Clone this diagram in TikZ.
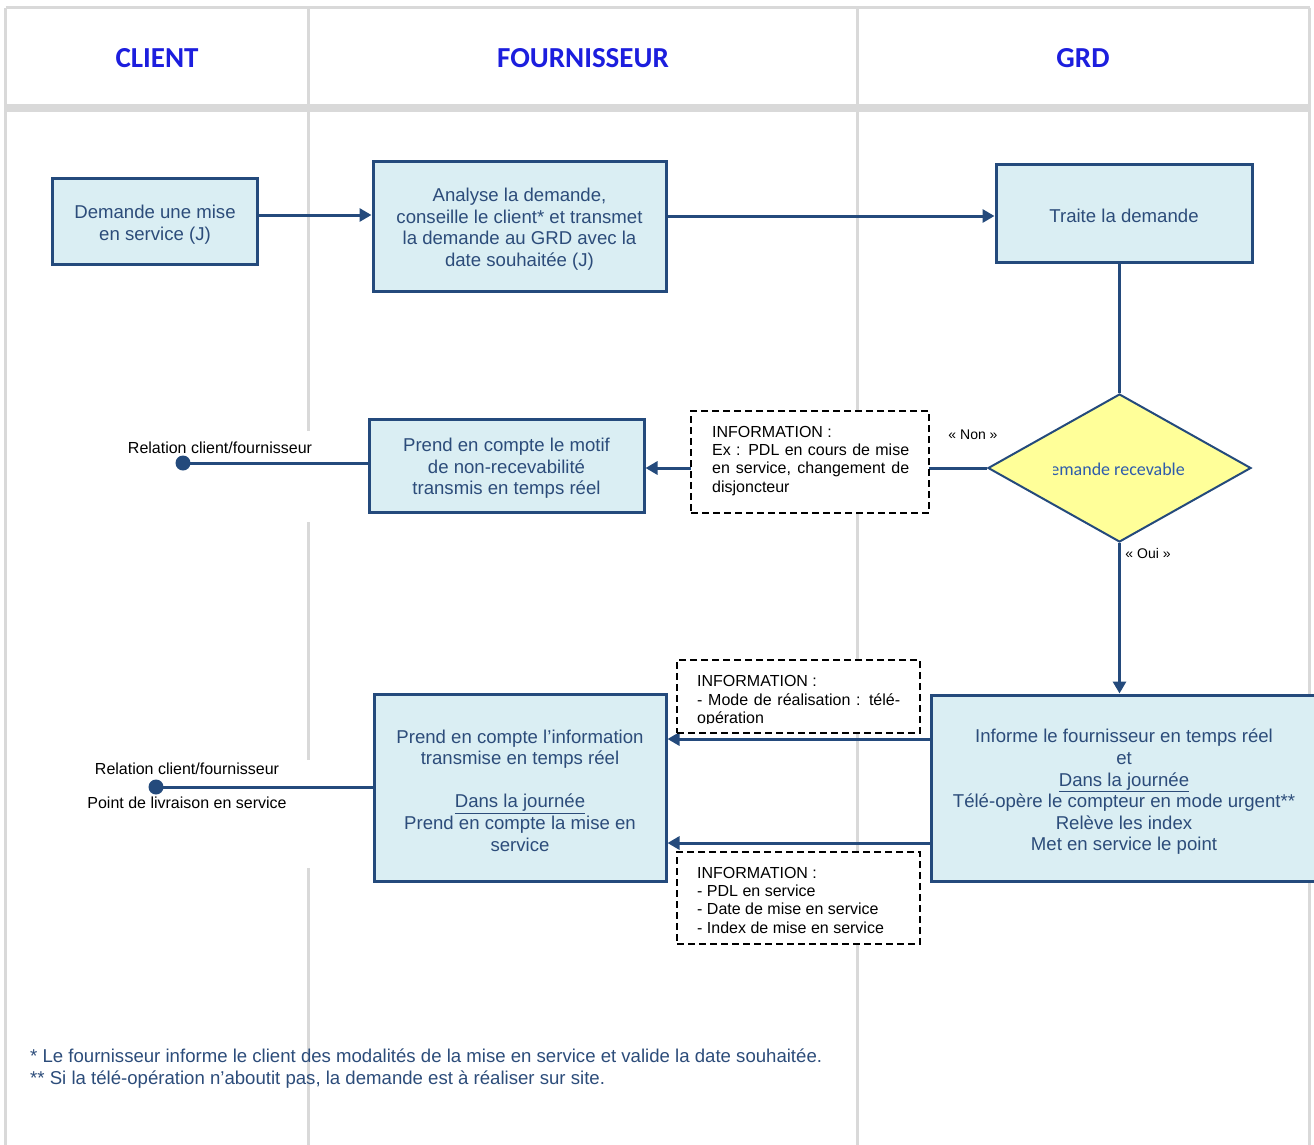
\documentclass[tikz,border=0pt]{standalone}
\usepackage{fontspec}
\setmainfont{Liberation Sans}
\newfontfamily\calib{Carlito}
\usetikzlibrary{arrows.meta,shapes.geometric}
\definecolor{bord}{RGB}{36,74,124}
\definecolor{boxfill}{RGB}{218,238,243}
\definecolor{boxtext}{RGB}{44,76,122}
\definecolor{decfill}{RGB}{255,255,153}
\definecolor{dectext}{RGB}{46,92,172}
\definecolor{sepgray}{RGB}{217,217,217}
\definecolor{titleblue}{RGB}{28,30,222}
\begin{document}
\begin{tikzpicture}[x=1pt,y=-1pt,
  proc/.style={draw=bord, line width=3pt, fill=boxfill, inner sep=0pt},
  ptext/.style={text=boxtext, align=center, inner sep=0pt, yshift=-3pt,
    font=\fontsize{18.6}{21.6}\selectfont},
  infobox/.style={draw=black, line width=1.8pt, dash pattern=on 7pt off 4pt, fill=white, inner sep=0pt},
  infotext/.style={anchor=north west, inner sep=0pt, align=left, text=black,
    font=\fontsize{16}{18.4}\selectfont},
  conn/.style={draw=bord, line width=3pt},
  arr/.style={conn, -{Triangle[length=12pt,width=13pt]}},
  sep/.style={draw=sepgray, line width=3pt},
  title/.style={text=titleblue, inner sep=0pt, font=\calib\bfseries\fontsize{29}{32}\selectfont},
  lbl/.style={inner sep=0pt, text=black, font=\fontsize{16}{18}\selectfont},
  small/.style={inner sep=0pt, text=black, font=\fontsize{14}{16}\selectfont},
  foot/.style={anchor=base west, inner sep=0pt, text=boxtext, font=\fontsize{18.6}{21.6}\selectfont},
  dot/.style={circle, fill=bord, minimum size=15pt, inner sep=0pt}
]
\useasboundingbox (0,0) rectangle (1314,1144);
\clip (0,0) rectangle (1314,1144);
\fill[white] (0,0) rectangle (1314,1144);

% frame and lanes
\draw[sep] (5.5,7.5) -- (1309.5,7.5);
\draw[sep] (5.5,7.5) -- (5.5,1150);
\draw[sep] (1309.5,7.5) -- (1309.5,1150);
\fill[sepgray] (4,104) rectangle (1311,112);
\draw[sep] (308.5,7.5) -- (308.5,104);
\draw[sep] (857,7.5) -- (857,104);
\draw[sep] (308.5,112) -- (308.5,431);
\draw[sep] (308.5,522) -- (308.5,760);
\draw[sep] (308.5,868) -- (308.5,1150);
\draw[sep] (857,112) -- (857,1150);

% titles
\node[title] (tclient) at (157,58) {CLIENT};
\node[title] (tfourn) at (583,58) {FOURNISSEUR};
\node[title] (tgrd) at (1083,58) {GRD};

% process boxes
\node[proc, minimum width=205pt, minimum height=86pt] (B1) at (155,221.5) {};
\node[ptext] (B1t) at (B1) {Demande une mise\\en service (J)};
\node[proc, minimum width=293pt, minimum height=130pt] (B2) at (519.5,226) {};
\node[ptext] (B2t) at (B2) {Analyse la demande,\\conseille le client* et transmet\\la demande au GRD avec la\\date souhaitée (J)};
\node[proc, minimum width=256pt, minimum height=98pt] (B3) at (1124,213) {};
\node[ptext] (B3t) at (B3) {Traite la demande};
\node[proc, minimum width=275pt, minimum height=93pt] (B5) at (506.5,465.5) {};
\node[ptext] (B5t) at (B5) {Prend en compte le motif\\de non-recevabilité\\transmis en temps réel};
\node[proc, minimum width=292pt, minimum height=187pt] (B12) at (520,787.5) {};
\node[ptext] (B12t) at (B12) {Prend en compte l’information\\transmise en temps réel\\[21.6pt]\underline{Dans la journée}\\Prend en compte la mise en\\service};
\node[proc, minimum width=386pt, minimum height=186pt] (B11) at (1124,788) {};
\node[ptext, yshift=-1pt] (B11t) at (B11) {Informe le fournisseur en temps réel\\et\\\underline{Dans la journée}\\Télé-opère le compteur en mode urgent**\\Relève les index\\Met en service le point};

% decision
\node[diamond, draw=bord, line width=2pt, fill=decfill, minimum width=263pt, minimum height=148pt, inner sep=0pt] (dec) at (1119.5,468) {};
\begin{scope}
\clip (1053.5,452) rectangle (1184.5,486);
\node[inner sep=0pt, text=dectext, font=\calib\fontsize{18}{21}\selectfont] (dect) at (1112,469) {Demande recevable};
\end{scope}

% helper rows
\coordinate (ya) at (0,215);
\coordinate (yb) at (0,216);
\coordinate (yc) at (0,739);
\coordinate (yd) at (0,843);

% connectors
\draw[arr] (B1.east |- ya) -- (B2.west |- ya);
\draw[arr] (B2.east |- yb) -- (B3.west |- yb);
\draw[conn] (dec.north |- B3.south) -- (dec.north);
\draw[arr] (dec.west) -- (dec.west -| B5.east);
\draw[arr] (dec.south) -- (dec.south |- B11.north);
\draw[arr] (B11.west |- yc) -- (B12.east |- yc);
\draw[arr] (B11.west |- yd) -- (B12.east |- yd);

\node[dot] (d1) at (183,463) {};
\draw[conn] (d1.center) -- (d1.center -| B5.west);
\node[dot] (d2) at (156,787) {};
\draw[conn] (d2.center) -- (d2.center -| B12.west);

% labels
\node[lbl] (l1) at (220,448) {Relation client/fournisseur};
\node[lbl] (l2) at (187,769) {Relation client/fournisseur};
\node[lbl] (l3) at (187,803) {Point de livraison en service};
\node[small] (non) at (973,435) {« Non »};
\node[small] (oui) at (1148,553) {« Oui »};

% information boxes
\node[infobox, minimum width=238pt, minimum height=102pt] (I1) at (810,462) {};
\node[infotext] (I1t) at (712,425.8) {INFORMATION :\\\makebox[197pt][s]{Ex : PDL en cours de mise}\\\makebox[197pt][s]{en service, changement de}\\disjoncteur};

\node[infobox, minimum width=243pt, minimum height=73pt] (I2) at (798.5,696.5) {};
\begin{scope}
\clip (680,663) rectangle (917,723.3);
\node[infotext] (I2t) at (697,675.3) {INFORMATION :\\\makebox[203pt][s]{- Mode de réalisation : télé-}\\opération};
\end{scope}

\node[infobox, minimum width=243pt, minimum height=92pt] (I3) at (798.5,898) {};
\node[infotext] (I3t) at (697,866.8) {INFORMATION :\\- PDL en service\\- Date de mise en service\\- Index de mise en service};

% footnotes
\node[foot] (f1) at (30,1062.5) {* Le fournisseur informe le client des modalités de la mise en service et valide la date souhaitée.};
\node[foot] (f2) at (30,1084.5) {** Si la télé-opération n’aboutit pas, la demande est à réaliser sur site.};
\end{tikzpicture}
\end{document}
